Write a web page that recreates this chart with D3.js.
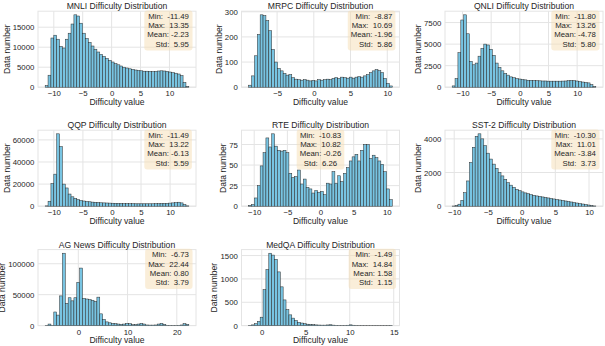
<!DOCTYPE html>
<html>
<head>
<meta charset="utf-8">
<script src="https://cdn.jsdelivr.net/npm/d3@7"></script>
<style>
  body { margin: 0; background: #fff; }
  text { font-family: "Liberation Sans", Arial, sans-serif; }
</style>
</head>
<body>
<div id="chart"></div>
<script>
// Figure size
const width = 605;
const height = 346;

// Dataset names and summary stats
const names = ["MNLI", "MRPC", "QNLI", "QQP", "RTE", "SST-2", "AG News", "MedQA"];
const minVals = [-11.49, -8.87, -11.80, -11.49, -10.83, -10.30, -6.73, -1.49];
const maxVals = [13.35, 10.69, 13.26, 13.22, 10.82, 11.01, 22.44, 14.84];
const meanVals = [-2.23, -1.96, -4.78, -6.13, -0.26, -3.84, 0.80, 1.58];
const stdVals = [5.95, 5.86, 5.80, 5.59, 6.26, 3.73, 3.79, 1.15];

// Tick labels
const xTicks = [
  [-10, -5, 0, 5, 10], [-5, 0, 5, 10], [-10, -5, 0, 5, 10],
  [-10, -5, 0, 5, 10], [-10, -5, 0, 5, 10], [-10, -5, 0, 5, 10],
  [0, 10, 20], [0, 5, 10, 15]
];
const yTicks = [
  [0, 5000, 10000, 15000], [0, 100, 200, 300], [0, 2500, 5000, 7500],
  [0, 20000, 40000, 60000], [0, 25, 50, 75], [0, 2000, 4000],
  [0, 50000, 100000], [0, 500, 1000, 1500]
];

// Histogram counts (equal-width bins between min and max)
const mnliCounts = [400, 3000, 12300, 13000, 12000, 10200, 9800, 12000, 13500, 15800,
  18100, 17800, 16000, 13500, 12200, 11200, 10300, 9500, 8800, 8200,
  7700, 7200, 6700, 6300, 5900, 5600, 5300, 5000, 4800, 4600,
  4450, 4300, 4200, 4100, 4000, 4000, 3950, 3900, 3950, 4050,
  4100, 4050, 3950, 3800, 3650, 3500, 3300, 2900, 1200, 200];
const mrpcCounts = [8, 45, 125, 210, 288, 285, 265, 225, 150, 100,
  75, 65, 55, 48, 50, 38, 32, 30, 28, 30,
  28, 25, 27, 25, 30, 28, 30, 32, 30, 35,
  38, 35, 40, 38, 36, 40, 36, 40, 42, 40,
  45, 50, 58, 65, 70, 66, 58, 35, 15, 5];
const qnliCounts = [150, 1000, 4000, 7800, 8400, 6200, 3000, 2600, 2800, 3600,
  4500, 5000, 4900, 4400, 3700, 2800, 2300, 1900, 1600, 1400,
  1200, 1100, 1000, 950, 900, 850, 800, 800, 780, 760,
  740, 720, 720, 700, 700, 700, 700, 700, 710, 720,
  750, 780, 760, 720, 650, 600, 550, 500, 300, 80];
const qqpCounts = [300, 4500, 20500, 29000, 65500, 54000, 20000, 16500, 11000, 8500,
  7000, 6000, 5200, 4700, 4300, 4000, 3700, 3500, 3300, 3100,
  3000, 2900, 2800, 2700, 2600, 2500, 2500, 2400, 2400, 2300,
  2300, 2200, 2200, 2200, 2200, 2200, 2200, 2200, 2300, 2300,
  2400, 2500, 2600, 2800, 3000, 3300, 3600, 3000, 1500, 300];
const rteCounts = [1, 2, 10, 25, 49, 65, 83, 72, 88, 73,
  68, 67, 68, 65, 40, 35, 36, 44, 27, 33,
  23, 21, 16, 19, 17, 18, 14, 28, 27, 42,
  28, 37, 30, 40, 47, 55, 60, 63, 55, 68,
  75, 75, 58, 62, 59, 55, 51, 42, 21, 8];
const sst2Counts = [10, 40, 120, 350, 800, 1500, 2600, 3500, 4150, 4300,
  4000, 3600, 3150, 2800, 2500, 2250, 2000, 1800, 1600, 1400,
  1250, 1120, 1000, 920, 850, 790, 740, 690, 650, 610,
  580, 550, 520, 490, 460, 430, 400, 370, 340, 310,
  280, 250, 220, 190, 160, 130, 100, 70, 40, 15];
const agNewsCounts = [300, 2500, 500, 22000, 17000, 48000, 117000, 36000, 45000, 40000,
  45000, 70000, 93000, 44000, 43000, 42000, 41000, 39000, 46000, 19000,
  10000, 6000, 4500, 3500, 3000, 2500, 2000, 2500, 3500, 3000,
  1500, 1500, 2500, 3500, 2500, 1000, 800, 800, 1000, 2500,
  3500, 2000, 500, 300, 300, 300, 500, 1000, 3000, 2000];
const medqaCounts = [5, 15, 40, 90, 180, 770, 1200, 1550, 1510, 1420,
  1150, 830, 550, 340, 230, 160, 110, 70, 55, 40,
  30, 25, 20, 15, 12, 10, 10, 14, 18, 10,
  6, 4, 3, 4, 8, 16, 8, 3, 2, 2,
  1, 1, 1, 1, 2, 1, 1, 1, 2, 4];

const allCounts = [mnliCounts, mrpcCounts, qnliCounts, qqpCounts, rteCounts, sst2Counts, agNewsCounts, medqaCounts];

// Grid layout (3 x 3, last cell empty)
const colLeft = [38, 241.5, 445];
const rowTop = [11.2, 130.2, 249.6];
const W = 158, H = 76;

const textColor = "#262626";
const gridColor = "#e4e4e4";
const barFill = "#78c4e2";
const barEdge = "#2a2a2a";
const statsCentered = ["RTE"];

const svg = d3.select("#chart")
  .append("svg")
  .attr("width", width)
  .attr("height", height)
  .style("background-color", "#fff");

names.forEach((name, i) => {
  const counts = allCounts[i];
  const left = colLeft[i % 3];
  const top = rowTop[Math.floor(i / 3)];
  const lo = minVals[i], hi = maxVals[i], span = hi - lo;

  const x = d3.scaleLinear()
    .domain([lo - 0.05 * span, hi + 0.05 * span])
    .range([left, left + W]);
  const y = d3.scaleLinear()
    .domain([0, d3.max(counts) * 1.05])
    .range([top + H, top]);

  const g = svg.append("g");

  // grid lines
  g.append("g").selectAll("line")
    .data(xTicks[i]).join("line")
    .attr("x1", d => x(d)).attr("x2", d => x(d))
    .attr("y1", top).attr("y2", top + H)
    .attr("stroke", gridColor).attr("stroke-width", 1);
  g.append("g").selectAll("line")
    .data(yTicks[i]).join("line")
    .attr("x1", left).attr("x2", left + W)
    .attr("y1", d => y(d)).attr("y2", d => y(d))
    .attr("stroke", gridColor).attr("stroke-width", 1);

  // axes frame
  g.append("rect")
    .attr("x", left).attr("y", top)
    .attr("width", W).attr("height", H)
    .attr("fill", "none").attr("stroke", gridColor).attr("stroke-width", 1);

  // bars
  const bw = span / counts.length;
  g.append("g").selectAll("rect")
    .data(counts).join("rect")
    .attr("x", (d, k) => x(lo + k * bw))
    .attr("width", (d, k) => x(lo + (k + 1) * bw) - x(lo + k * bw))
    .attr("y", d => y(d))
    .attr("height", d => y(0) - y(d))
    .attr("fill", barFill)
    .attr("stroke", barEdge)
    .attr("stroke-width", 0.5);

  // x axis
  const xa = g.append("g")
    .attr("transform", `translate(0,${top + H})`)
    .call(d3.axisBottom(x).tickValues(xTicks[i]).tickSize(0).tickPadding(3.4).tickFormat(d3.format("d")));
  xa.select(".domain").remove();
  xa.attr("font-family", null).attr("font-size", 7.8).style("color", textColor);

  // y axis
  const ya = g.append("g")
    .attr("transform", `translate(${left},0)`)
    .call(d3.axisLeft(y).tickValues(yTicks[i]).tickSize(0).tickPadding(3.7).tickFormat(d3.format("d")));
  ya.select(".domain").remove();
  ya.attr("font-family", null).attr("font-size", 7.8).style("color", textColor);

  let maxTickW = 0;
  ya.selectAll("text").each(function () {
    maxTickW = Math.max(maxTickW, this.getComputedTextLength());
  });

  // axis labels
  g.append("text")
    .attr("x", left + W / 2).attr("y", top + H + 17.6)
    .attr("text-anchor", "middle")
    .attr("font-size", 8.6).attr("fill", textColor)
    .text("Difficulty value");

  const ylx = left - 3.7 - maxTickW - 3;
  g.append("text")
    .attr("transform", `translate(${ylx},${top + H / 2}) rotate(-90)`)
    .attr("text-anchor", "middle")
    .attr("font-size", 8.6).attr("fill", textColor)
    .text("Data number");

  // title
  g.append("text")
    .attr("x", left + W / 2).attr("y", top - 2)
    .attr("text-anchor", "middle")
    .attr("font-size", 8.6).attr("fill", textColor)
    .text(`${name} Difficulty Distribution`);

  // stats box
  const centered = statsCentered.includes(name);
  const tx = centered ? left + W / 2 : left + 0.955 * W;
  const lines = [
    `Min:  ${minVals[i].toFixed(2)}`,
    `Max:  ${maxVals[i].toFixed(2)}`,
    `Mean: ${meanVals[i].toFixed(2)}`,
    `Std:  ${stdVals[i].toFixed(2)}`
  ];
  const box = g.append("rect");
  const st = g.append("text")
    .attr("font-size", 7.8).attr("fill", textColor)
    .attr("text-anchor", centered ? "middle" : "end")
    .style("white-space", "pre");
  const firstBase = top + 7.6;
  const lineGap = 9.3;
  lines.forEach((l, k) => {
    st.append("tspan").attr("x", tx).attr("y", firstBase + k * lineGap).text(l);
  });
  const bb = st.node().getBBox();
  box.attr("x", bb.x - 3)
    .attr("y", firstBase - 8.4)
    .attr("width", bb.width + 6)
    .attr("height", (firstBase + 3 * lineGap + 3.8) - (firstBase - 8.4))
    .attr("rx", 3).attr("ry", 3)
    .attr("fill", "#f5deb3").attr("fill-opacity", 0.5);
});
</script>
</body>
</html>
